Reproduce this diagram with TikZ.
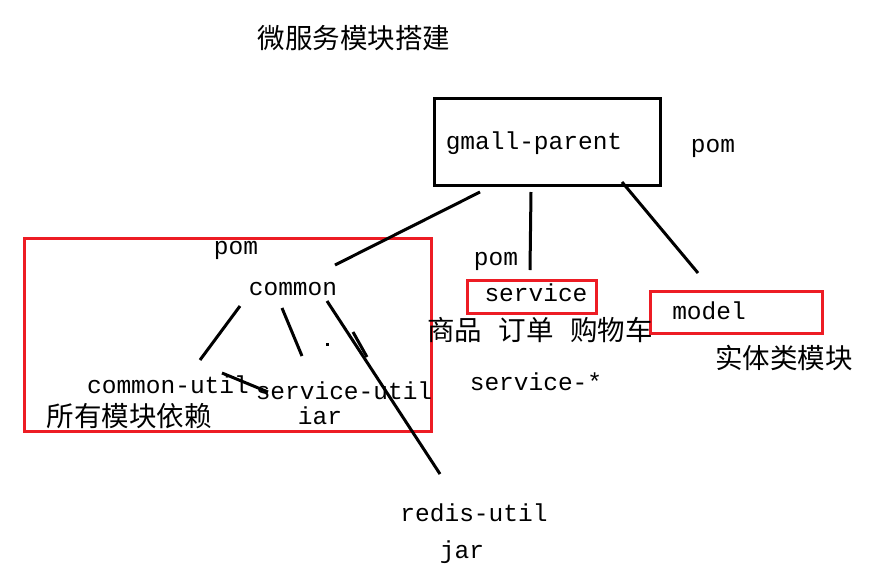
\documentclass[tikz,border=0pt]{standalone}
\usepackage{fontspec}
\setmonofont{Liberation Mono}
\newfontfamily\cjk{Noto Sans CJK SC}
\definecolor{pred}{RGB}{237,28,36}
\begin{document}
\begin{tikzpicture}[x=1pt,y=-1pt,
  lat/.style={font=\ttfamily\fontsize{24.5}{26}\selectfont, inner sep=0pt, anchor=center},
  han/.style={font=\cjk\fontsize{27.5}{29}\selectfont, inner sep=0pt, anchor=center},
  blk/.style={draw=black, line width=3pt},
  redbox/.style={draw=pred, line width=3pt},
  conn/.style={draw=black, line width=3pt}]
\useasboundingbox (0,0) rectangle (884,574);
\fill[white] (0,0) rectangle (884,574);
% title
\node[han] (title) at (354,38) {微服务模块搭建};
% parent box
\draw[blk] (434,98) rectangle (660,185);
\node[lat] (parent) at (534,143) {gmall-parent};
\node[lat] (pom1) at (713,148) {pom};
% red boxes
\draw[redbox] (24,238) rectangle (431,431);
\draw[redbox] (467,280) rectangle (596,313);
\draw[redbox] (650,291) rectangle (822,333);
% texts
\node[lat] (pom2) at (236,250) {pom};
\node[lat] (common) at (293,289) {common};
\node[lat] (cutil) at (168,385) {common-util};
\node[lat] (sutil) at (344,391) {service-util};
\node[lat] (iar) at (320,416) {iar};
\node[han] (allmod) at (129,416) {所有模块依赖};
\node[lat] (pom3) at (496,261) {pom};
\node[lat] (service) at (536,293) {service};
\node[han] (goods) at (540,330) {商品\hspace{0.6em}订单\hspace{0.6em}购物车};
\node[lat] (servstar) at (536,382) {service-*};
\node[lat] (model) at (709,311) {model};
\node[han] (entity) at (784,358) {实体类模块};
\node[lat] (redis) at (474,513) {redis-util};
\node[lat] (jar) at (462,552) {jar};
% connector end points
\coordinate (p1) at (480,192);
\coordinate (c1) at (335,265);
\coordinate (p2) at (531,192);
\coordinate (s1) at (530,270);
\coordinate (p3) at (622,182);
\coordinate (m1) at (698,273);
\coordinate (c2) at (240,306);
\coordinate (u1) at (200,360);
\coordinate (c3) at (282,308);
\coordinate (u2) at (302,356);
\coordinate (c4) at (327,301);
\coordinate (r1) at (440,474);
\coordinate (d1) at (353,332);
\coordinate (d2) at (367,357);
\coordinate (x1) at (222,373);
\coordinate (x2) at (268,392);
\draw[conn] (p1) -- (c1);
\draw[conn] (p2) -- (s1);
\draw[conn] (p3) -- (m1);
\draw[conn] (c2) -- (u1);
\draw[conn] (c3) -- (u2);
\draw[conn] (c4) -- (r1);
\draw[conn] (d1) -- (d2);
\draw[conn] (x1) -- (x2);
\fill[black] (325.5,342.5) rectangle (328.5,345.5);
\end{tikzpicture}
\end{document}
